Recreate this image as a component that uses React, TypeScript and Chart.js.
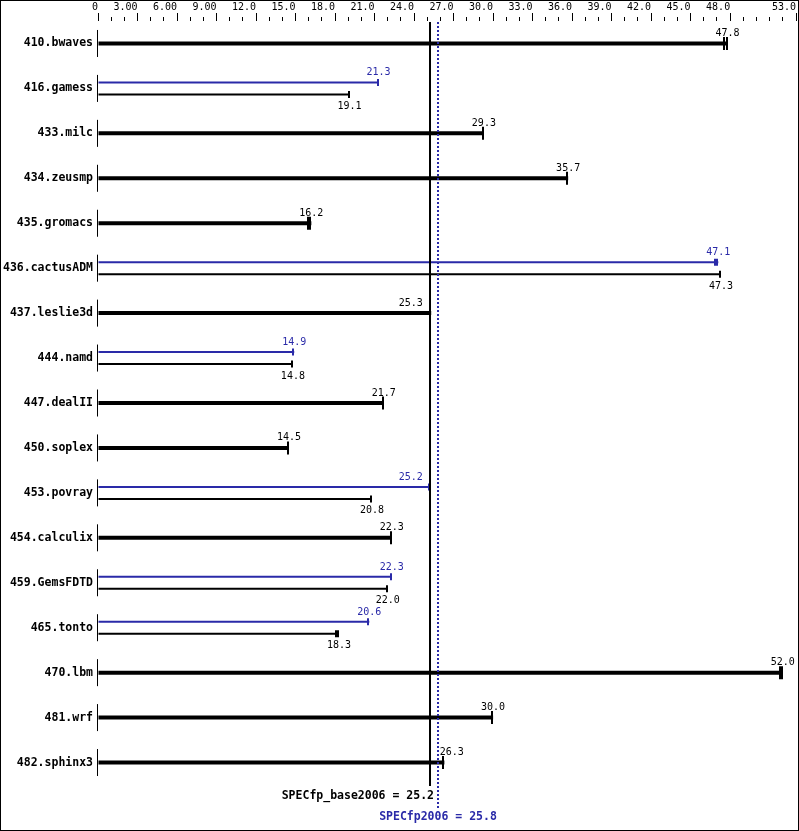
import React, { useEffect, useRef } from "react";
import { Chart, registerables } from "chart.js";

Chart.register(...registerables);

const benchmarks = [
  "410.bwaves", "416.gamess", "433.milc", "434.zeusmp", "435.gromacs",
  "436.cactusADM", "437.leslie3d", "444.namd", "447.dealII", "450.soplex",
  "453.povray", "454.calculix", "459.GemsFDTD", "465.tonto", "470.lbm",
  "481.wrf", "482.sphinx3",
];
const baseRatios = [47.8, 19.1, 29.3, 35.7, 16.2, 47.3, 25.3, 14.8, 21.7, 14.5, 20.8, 22.3, 22.0, 18.3, 52.0, 30.0, 26.3];
const peakRatios: (number | null)[] = [null, 21.3, null, null, null, 47.1, null, 14.9, null, null, 25.2, null, 22.3, 20.6, null, null, null];
// second (lower) run values that show as a double end mark
const baseRunLow: (number | null)[] = [47.6, null, null, null, 16.0, null, null, null, null, null, null, null, null, 18.1, 51.8, null, null];
const peakRunLow: (number | null)[] = [null, null, null, null, null, 46.9, null, null, null, null, null, null, null, null, null, null, null];

const specBase = 25.2;
const specPeak = 25.8;
const axisMax = 53;
const axisTickValues = [0, 3, 6, 9, 12, 15, 18, 21, 24, 27, 30, 33, 36, 39, 42, 45, 48, 53];
const axisTickLabels = ["0", "3.00", "6.00", "9.00", "12.0", "15.0", "18.0", "21.0", "24.0", "27.0", "30.0", "33.0", "36.0", "39.0", "42.0", "45.0", "48.0", "53.0"];

const BLUE = "#2a2aa8";
const MONO = '"DejaVu Sans Mono", "Liberation Mono", monospace';

const overlayPlugin = {
  id: "specOverlay",
  afterDatasetsDraw(chart: any) {
    const ctx = chart.ctx as CanvasRenderingContext2D;
    const xs = chart.scales.x;
    const ys = chart.scales.y;
    const ca = chart.chartArea;
    const basePx = xs.getPixelForValue(specBase);
    const peakPx = xs.getPixelForValue(specPeak);
    const mid = (specBase + specPeak) / 2;
    ctx.save();

    // zero axis segments per row
    ctx.strokeStyle = "#000";
    ctx.lineWidth = 1;
    benchmarks.forEach((_, i) => {
      const cy = ys.getPixelForValue(i);
      ctx.beginPath();
      ctx.moveTo(Math.round(ca.left) - 0.5, cy - 13.5);
      ctx.lineTo(Math.round(ca.left) - 0.5, cy + 13.5);
      ctx.stroke();
    });

    ctx.font = `10px ${MONO}`;
    [0, 1].forEach((di) => {
      const meta = chart.getDatasetMeta(di);
      const values = di === 0 ? peakRatios : baseRatios;
      const lows = di === 0 ? peakRunLow : baseRunLow;
      const color = di === 0 ? BLUE : "#000";
      meta.data.forEach((bar: any, i: number) => {
        const v = values[i];
        if (v == null) return;
        const { x, y, height } = bar.getProps(["x", "y", "height"], true);
        const half = height * 1.5 + 0.5;
        ctx.strokeStyle = color;
        ctx.lineWidth = 2;
        const cap = (px: number) => {
          ctx.beginPath();
          ctx.moveTo(Math.round(px) - 1, y - half);
          ctx.lineTo(Math.round(px) - 1, y + half);
          ctx.stroke();
        };
        cap(x);
        const lo = lows[i];
        if (lo != null) cap(xs.getPixelForValue(lo) + 0.5);

        // value label
        const txt = v.toFixed(1);
        const w = ctx.measureText(txt).width;
        let left = x - w / 2;
        if (left < peakPx + 2 && left + w > basePx - 2) {
          if (v <= mid) left = Math.min(x, basePx) - 7 - w;
          else left = peakPx + 2;
        }
        let baseline: number;
        const single = di === 1 && peakRatios[i] == null;
        if (di === 0) baseline = y - 7;
        else if (single) baseline = y - 7.5;
        else baseline = y + 14.5;
        ctx.fillStyle = color;
        ctx.textAlign = "left";
        ctx.textBaseline = "alphabetic";
        ctx.fillText(txt, left, baseline);
      });
    });

    // reference lines
    ctx.strokeStyle = "#000";
    ctx.lineWidth = 2;
    ctx.setLineDash([]);
    ctx.beginPath();
    ctx.moveTo(Math.round(basePx), ca.top + 1);
    ctx.lineTo(Math.round(basePx), ca.bottom + 1);
    ctx.stroke();

    ctx.strokeStyle = BLUE;
    ctx.setLineDash([2, 2]);
    ctx.beginPath();
    ctx.moveTo(Math.round(peakPx), ca.top + 1);
    ctx.lineTo(Math.round(peakPx), ca.bottom + 23);
    ctx.stroke();
    ctx.setLineDash([]);

    // summary labels
    ctx.font = `bold 11.5px ${MONO}`;
    ctx.textBaseline = "middle";
    ctx.fillStyle = "#000";
    ctx.textAlign = "right";
    ctx.fillText(`SPECfp_base2006 = ${specBase.toFixed(1)}`, Math.round(basePx) + 4, ca.bottom + 11);
    ctx.fillStyle = BLUE;
    ctx.textAlign = "center";
    ctx.fillText(`SPECfp2006 = ${specPeak.toFixed(1)}`, Math.round(peakPx), ca.bottom + 32.5);

    // frame
    ctx.strokeStyle = "#000";
    ctx.lineWidth = 1;
    ctx.strokeRect(0.5, 0.5, chart.width - 1, chart.height - 1);
    ctx.restore();
  },
};

export default function App() {
  const ref = useRef<HTMLCanvasElement>(null);
  useEffect(() => {
    document.body.style.margin = "0";
    const chart = new Chart(ref.current as HTMLCanvasElement, {
      type: "bar",
      data: {
        labels: benchmarks,
        datasets: [
          {
            label: "peak",
            data: peakRatios,
            backgroundColor: BLUE,
            borderWidth: 0,
            stack: "peak",
            skipNull: true,
            categoryPercentage: 24 / 44.94,
            barPercentage: 1 / 6,
          } as any,
          {
            label: "base",
            data: baseRatios,
            backgroundColor: "#000",
            borderWidth: 0,
            stack: "base",
            skipNull: true,
            categoryPercentage: 24 / 44.94,
            barPercentage: 1 / 6,
          } as any,
        ],
      },
      options: {
        indexAxis: "y",
        animation: false,
        responsive: false,
        devicePixelRatio: 1,
        layout: { padding: { left: 0, top: 0, right: 3, bottom: 46 } },
        plugins: {
          legend: { display: false },
          tooltip: { enabled: false },
        },
        scales: {
          x: {
            type: "linear",
            position: "top",
            min: 0,
            max: axisMax,
            afterFit: (s: any) => {
              s.height = 21;
            },
            border: { display: false },
            grid: {
              display: true,
              drawOnChartArea: false,
              drawTicks: true,
              tickLength: 8,
              tickColor: "#000",
              tickWidth: 1,
              tickBorderDash: (c: any) =>
                axisTickValues.includes(c.tick?.value) ? [] : [0, 4, 20],
            },
            ticks: {
              stepSize: 1,
              autoSkip: false,
              maxRotation: 0,
              minRotation: 0,
              align: "end",
              padding: 0,
              color: "#000",
              font: { family: MONO, size: 10 },
              callback: (value: any) => {
                const k = axisTickValues.indexOf(Number(value));
                return k >= 0 ? axisTickLabels[k] : "";
              },
            },
          } as any,
          y: {
            type: "category",
            afterFit: (s: any) => {
              s.width = 98;
            },
            border: { display: false },
            grid: { display: false, drawTicks: false },
            ticks: {
              autoSkip: false,
              padding: 5,
              color: "#000",
              font: { family: MONO, size: 11.5, weight: "bold" },
            },
          } as any,
        },
      },
      plugins: [overlayPlugin],
    });
    return () => chart.destroy();
  }, []);
  return (
    <div style={{ width: 799, height: 831 }}>
      <canvas ref={ref} width={799} height={831} style={{ display: "block" }} />
    </div>
  );
}
